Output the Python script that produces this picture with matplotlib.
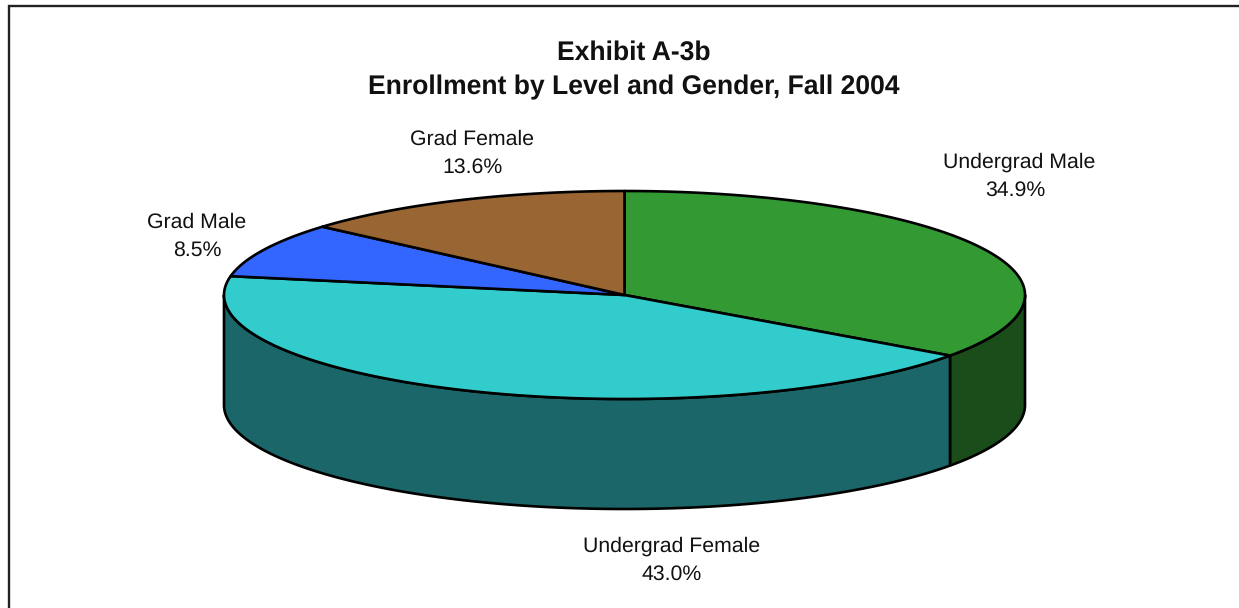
import numpy as np
import matplotlib
matplotlib.use("Agg")
import matplotlib.pyplot as plt
from matplotlib.patches import Polygon

plt.rcParams['font.family'] = ['Liberation Sans', 'DejaVu Sans']
plt.rcParams['text.hinting'] = 'no_hinting'

W, H = 1239, 608
categories = ["Undergrad Male", "Undergrad Female", "Grad Male", "Grad Female"]
values = [34.9, 43.0, 8.5, 13.6]
top_colors = ["#339933", "#33CCCC", "#3366FF", "#996633"]
side_colors = ["#1B4D1B", "#1B6668", "#1B3380", "#4D331B"]
name_xy = [(1019, 168), (672, 552), (197, 228), (472, 145)]
value_xy = [(1015, 196), (672, 580), (197, 256), (472, 173)]
title_lines = ["Exhibit A-3b", "Enrollment by Level and Gender, Fall 2004"]
title_xy = [(633.5, 60), (633.5, 94)]

CX, CY, RX, RY, DEPTH = 624.5, 295, 400.5, 104, 110

fig = plt.figure(figsize=(W / 100, H / 100), dpi=100, facecolor="white")
ax = fig.add_axes([0, 0, 1, 1])
ax.set_xlim(0, W)
ax.set_ylim(H, 0)
ax.axis("off")

LW = 1.9


def arc(a0, a1, dy=0.0, n=200):
    t = np.linspace(a0, a1, n)
    return np.column_stack([CX + RX * np.sin(t), CY + dy - RY * np.cos(t)])


# outer frame (open at the right and bottom edges as cropped)
ax.plot([9, 9, 1239], [H, 6, 6], color="#222222", lw=1.7, solid_joinstyle="miter", zorder=1)

edges = np.concatenate([[0], np.cumsum(values)]) / np.sum(values) * 2 * np.pi

# side walls: only the front half of the cylinder is visible
for i in range(len(values)):
    a0, a1 = max(edges[i], np.pi / 2), min(edges[i + 1], 3 * np.pi / 2)
    if a1 <= a0:
        continue
    upper = arc(a0, a1)
    lower = arc(a0, a1, DEPTH)[::-1]
    ax.add_patch(Polygon(np.vstack([upper, lower]), closed=True, facecolor=side_colors[i],
                         edgecolor="black", lw=LW, joinstyle="round", zorder=2))

# top faces
for i in range(len(values)):
    pts = np.vstack([[[CX, CY]], arc(edges[i], edges[i + 1])])
    ax.add_patch(Polygon(pts, closed=True, facecolor=top_colors[i], edgecolor="black",
                         lw=LW, joinstyle="round", zorder=3))

# labels
for name, val, nxy, vxy in zip(categories, values, name_xy, value_xy):
    ax.text(*nxy, name, ha="center", va="baseline", fontsize=15.3, color="#111111", zorder=4)
    ax.text(*vxy, f"{val:.1f}%", ha="center", va="baseline", fontsize=15.3, color="#111111", zorder=4)

for line, xy in zip(title_lines, title_xy):
    ax.text(*xy, line, ha="center", va="baseline", fontsize=19.1, fontweight="bold",
            color="#111111", zorder=4)

fig.savefig("out.png", dpi=100, facecolor="white")
